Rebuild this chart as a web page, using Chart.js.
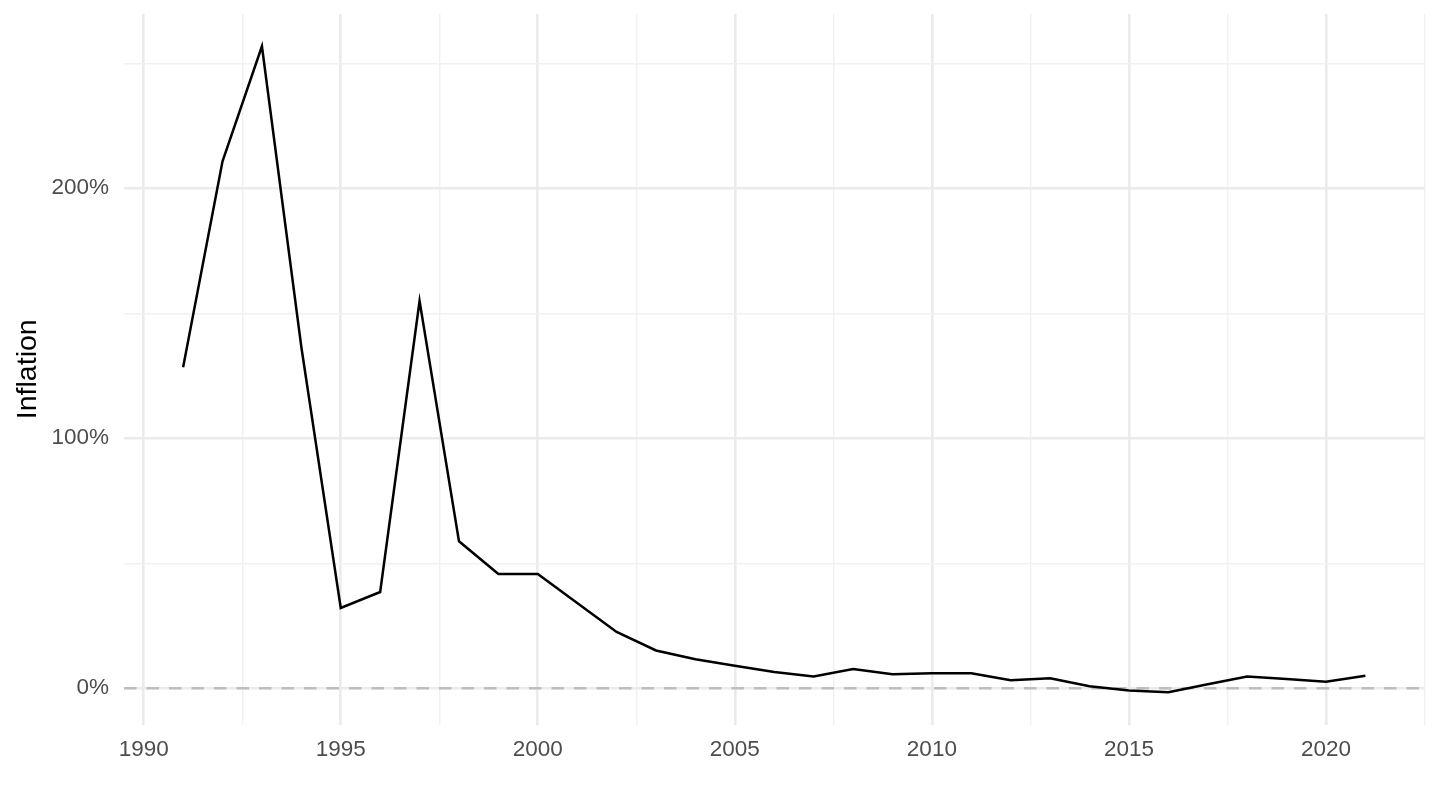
<!DOCTYPE html>
<html>
<head>
<meta charset="utf-8">
<script src="https://cdn.jsdelivr.net/npm/chart.js@4"></script>
<style>
  html, body { margin: 0; padding: 0; background: #fff; }
  #wrap { width: 1440px; height: 810px; position: relative; }
</style>
</head>
<body>
<div id="wrap"><canvas id="myChart"></canvas></div>
<script>
// values (inflation, % per year)
const years = [1991, 1992, 1993, 1994, 1995, 1996, 1997, 1998, 1999, 2000,
  2001, 2002, 2003, 2004, 2005, 2006, 2007, 2008, 2009, 2010,
  2011, 2012, 2013, 2014, 2015, 2016, 2017, 2018, 2019, 2020, 2021];
const inflation = [128.4, 210.8, 256.8, 136.5, 32.1, 38.5, 154.9, 58.8, 45.7, 45.7,
  34.1, 22.5, 15.1, 11.6, 9.0, 6.5, 4.7, 7.7, 5.6, 6.0,
  6.0, 3.2, 4.0, 0.8, -0.9, -1.6, 1.6, 4.7, 3.7, 2.6, 5.0];

// axis breaks
const xMajor = [1990, 1995, 2000, 2005, 2010, 2015, 2020];
const xMinor = [1992.5, 1997.5, 2002.5, 2007.5, 2012.5, 2017.5, 2022.5];
const yMajor = [0, 100, 200];
const yMinor = [50, 150, 250];

const xMin = 1989.5, xMax = 2022.5;
const yMin = -14.5, yMax = 269.7;

let ticksFrom = (major, minor) => major.concat(minor).sort((a, b) => a - b).map(v => ({ value: v }));
let gridColor = (major) => (ctx) => major.includes(ctx.tick.value) ? '#EBEBEB' : '#F1F1F1';
let gridWidth = (major) => (ctx) => major.includes(ctx.tick.value) ? 2.6 : 1.4;

const ctx = document.getElementById('myChart');

new Chart(ctx, {
  type: 'line',
  data: {
    datasets: [{
      data: years.map((y, i) => ({ x: y, y: inflation[i] })),
      borderColor: '#000',
      borderWidth: 2.5,
      pointRadius: 0,
      tension: 0
    }, {
      // dashed zero line
      data: [{ x: xMin, y: 0 }, { x: xMax, y: 0 }],
      borderColor: '#BEBEBE',
      borderWidth: 2.4,
      borderDash: [12.5, 10],
      pointRadius: 0
    }]
  },
  options: {
    responsive: true,
    maintainAspectRatio: false,
    animation: false,
    layout: { padding: { top: 14, right: 15.5, left: 0, bottom: 0 } },
    plugins: { legend: { display: false }, tooltip: { enabled: false } },
    scales: {
      x: {
        type: 'linear',
        min: xMin,
        max: xMax,
        border: { display: false },
        grid: { color: gridColor(xMajor), lineWidth: gridWidth(xMajor), drawTicks: false },
        afterBuildTicks: (s) => { s.ticks = ticksFrom(xMajor, xMinor); },
        afterFit: (s) => { s.height = 85.5; s.paddingLeft = 0; s.paddingRight = 0; },
        ticks: {
          autoSkip: false,
          maxRotation: 0,
          padding: 12,
          color: '#4D4D4D',
          font: { family: 'Liberation Sans', size: 22.5 },
          callback: (v) => xMajor.includes(v) ? String(v) : ''
        }
      },
      y: {
        min: yMin,
        max: yMax,
        border: { display: false },
        grid: { color: gridColor(yMajor), lineWidth: gridWidth(yMajor), drawTicks: false },
        afterBuildTicks: (s) => { s.ticks = ticksFrom(yMajor, yMinor); },
        afterFit: (s) => { s.width = 124; s.paddingTop = 0; s.paddingBottom = 0; },
        title: {
          display: true,
          text: 'Inflation',
          color: '#000',
          font: { family: 'Liberation Sans', size: 28.5 },
          padding: { top: 11, bottom: 0 }
        },
        ticks: {
          autoSkip: false,
          padding: 15,
          color: '#4D4D4D',
          font: { family: 'Liberation Sans', size: 22.5 },
          callback: (v) => yMajor.includes(v) ? v + '%' : ''
        }
      }
    }
  }
});
</script>
</body>
</html>
